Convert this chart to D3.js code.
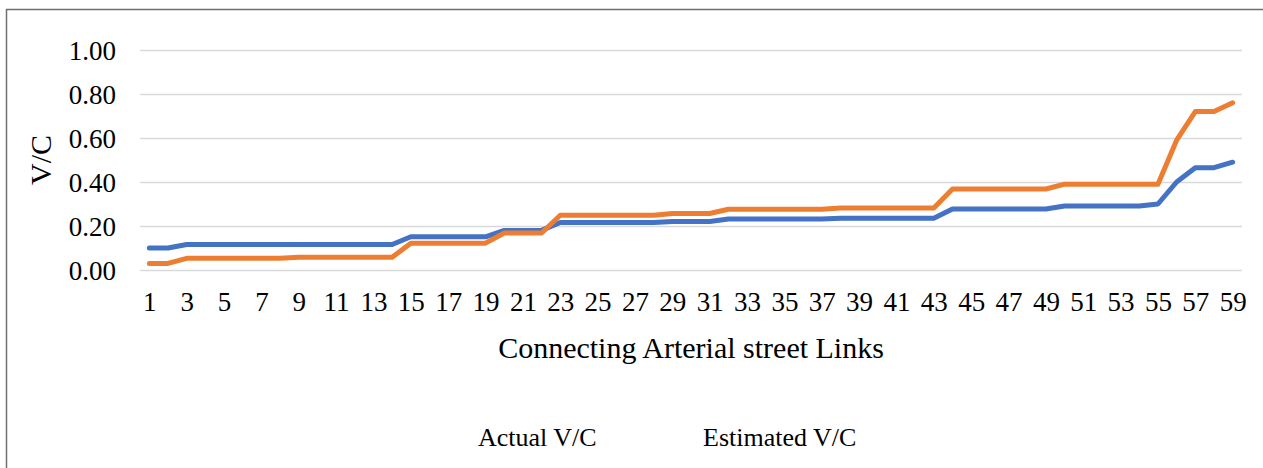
<!DOCTYPE html>
<html>
<head>
<meta charset="utf-8">
<script src="https://cdn.jsdelivr.net/npm/d3@7/dist/d3.min.js"></script>
<style>
html,body{margin:0;padding:0;background:#fff;}
svg text{font-family:"Liberation Serif","Times New Roman",Times,"DejaVu Serif",serif;fill:#000;}
</style>
</head>
<body>
<svg id="chart" width="1263" height="468"></svg>
<script>
const links = d3.range(1, 60);
const xTickLabels = links.filter(d => d % 2 === 1);
const yTicks = [0, 0.2, 0.4, 0.6, 0.8, 1.0];
const seriesNames = ["Actual V/C", "Estimated V/C"];
const actualVC = [0.10,0.10,
  0.116,0.116,0.116,0.116,0.116,0.116,0.116,0.116,0.116,0.116,0.116,0.116,
  0.151,0.151,0.151,0.151,0.151,
  0.18,0.18,0.18,
  0.216,0.216,0.216,0.216,0.216,0.216,
  0.22,0.22,0.22,
  0.232,0.232,0.232,0.232,0.232,0.232,
  0.235,0.235,0.235,0.235,0.235,0.235,
  0.277,0.277,0.277,0.277,0.277,0.277,
  0.291,0.291,0.291,0.291,0.291,
  0.30,0.40,0.465,0.465,0.49];
const estimatedVC = [0.03,0.03,
  0.053,0.053,0.053,0.053,0.053,0.053,
  0.058,0.058,0.058,0.058,0.058,0.058,
  0.122,0.122,0.122,0.122,0.122,
  0.168,0.168,0.168,
  0.249,0.249,0.249,0.249,0.249,0.249,
  0.257,0.257,0.257,
  0.276,0.276,0.276,0.276,0.276,0.276,
  0.282,0.282,0.282,0.282,0.282,0.282,
  0.368,0.368,0.368,0.368,0.368,0.368,
  0.39,0.39,0.39,0.39,0.39,0.39,
  0.59,0.72,0.72,0.76];
const colors = ["#4472C4", "#ED7D31"];
const FONT = '"Liberation Serif","Times New Roman",Times,"DejaVu Serif",serif';

const svg = d3.select("#chart");
const pLeft = 140, pRight = 1242, pTop = 50, pBottom = 270;
const x = d3.scalePoint().domain(links).range([pLeft, pRight]).padding(0.5);
const y = d3.scaleLinear().domain([0, 1]).range([pBottom, pTop]);

// outer border
svg.append("rect").attr("x", 6.5).attr("y", 9.5).attr("width", 1270).attr("height", 480)
  .attr("fill", "none").attr("stroke", "#6f6f6f").attr("stroke-width", 1.5);

// gridlines
const yAxis = d3.axisLeft(y).tickValues(yTicks).tickFormat(d3.format(".2f")).tickSize(-(pRight - pLeft)).tickPadding(24);
const gy = svg.append("g").attr("transform", `translate(${pLeft},0)`).call(yAxis)
  .attr("font-family", FONT);
gy.select(".domain").remove();
gy.selectAll(".tick line").attr("stroke", "#d9d9d9").attr("stroke-width", 1.5);
gy.selectAll(".tick text").attr("font-size", 27).attr("dy", "0.34em");

// x axis labels
const xAxis = d3.axisBottom(x).tickValues(xTickLabels).tickSize(0).tickPadding(22);
const gx = svg.append("g").attr("transform", `translate(0,${pBottom})`).call(xAxis)
  .attr("font-family", FONT);
gx.select(".domain").remove();
gx.selectAll(".tick text").attr("font-size", 27);

// lines
const line = d3.line().x((d, i) => x(links[i])).y(d => y(d));
[actualVC, estimatedVC].forEach((s, k) => {
  svg.append("path").datum(s).attr("d", line).attr("fill", "none")
    .attr("stroke", colors[k]).attr("stroke-width", 5)
    .attr("stroke-linejoin", "round").attr("stroke-linecap", "round");
});

// axis titles
svg.append("text").attr("x", (pLeft + pRight) / 2).attr("y", 358).attr("text-anchor", "middle")
  .attr("font-family", FONT).attr("font-size", 30).text("Connecting Arterial street Links");
svg.append("text").attr("transform", `translate(51,${(pTop + pBottom) / 2}) rotate(-90)`)
  .attr("font-family", FONT).attr("text-anchor", "middle").attr("font-size", 30).text("V/C");

// legend
const legX = [478, 703];
seriesNames.forEach((n, k) => {
  svg.append("text").attr("x", legX[k]).attr("y", 446).attr("font-family", FONT)
    .attr("font-size", 26).text(n);
});
</script>
</body>
</html>
